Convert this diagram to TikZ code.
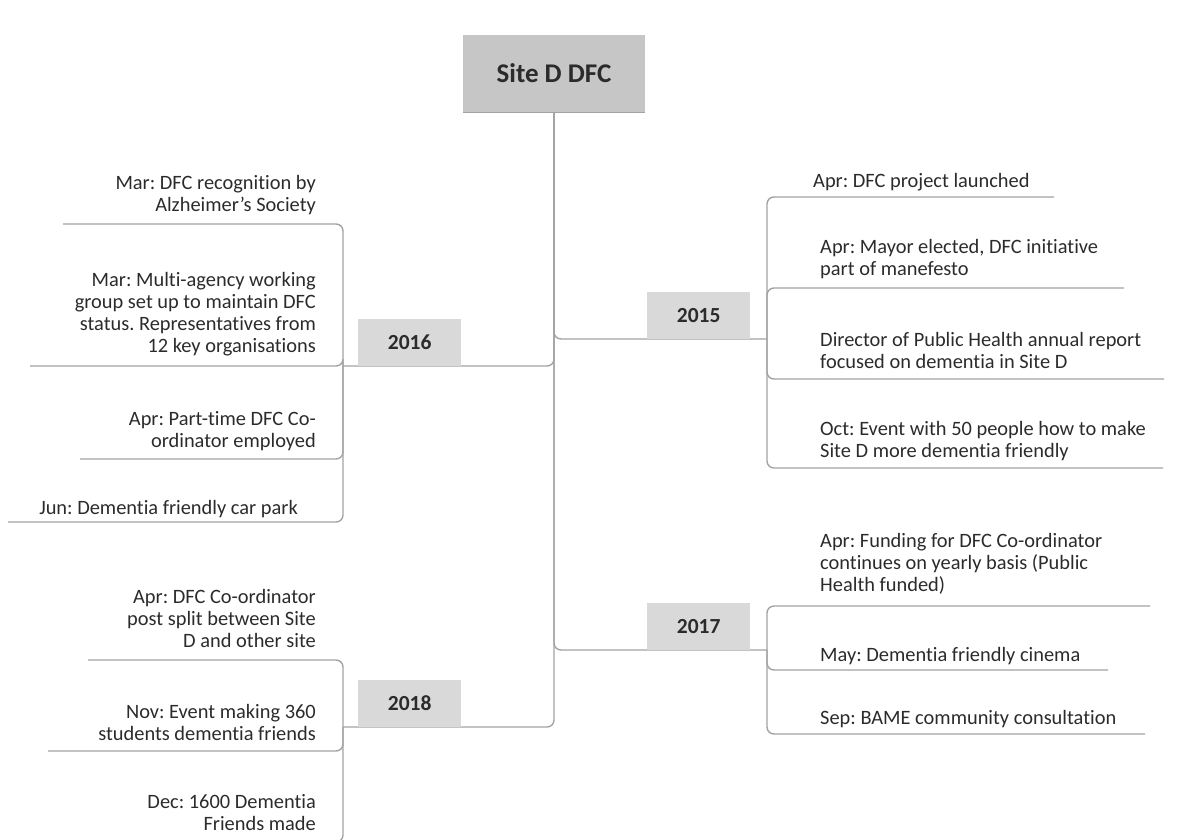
\documentclass[tikz,border=0pt]{standalone}
\usepackage{fontspec}
\setmainfont{Carlito}[Ligatures=NoCommon]
\frenchspacing
\definecolor{linegray}{HTML}{A3A3A3}
\definecolor{rootgray}{HTML}{C6C6C6}
\definecolor{yeargray}{HTML}{D9D9D9}
\definecolor{inkgray}{HTML}{2B2B2B}
\begin{document}
\begin{tikzpicture}[x=1pt,y=-1pt,
  branch/.style={draw=linegray, line width=1.4pt, rounded corners=7pt},
  rootbox/.style={fill=rootgray, minimum width=182pt, minimum height=77pt, inner sep=0pt,
    font=\fontsize{27}{32}\selectfont\bfseries, text=inkgray},
  yearbox/.style={fill=yeargray, minimum width=103pt, minimum height=47pt, inner sep=0pt,
    font=\fontsize{21.5}{26}\selectfont\bfseries, text=inkgray},
  lefttext/.style={anchor=east, align=right, inner sep=0pt,
    font=\fontsize{20.4}{22}\selectfont, text=inkgray},
  righttext/.style={anchor=west, align=left, inner sep=0pt,
    font=\fontsize{20.4}{22}\selectfont, text=inkgray}]
\useasboundingbox (0,0) rectangle (1194,839);
\clip (0,0) rectangle (1194,839);

% central topic
\node[rootbox] (root) at (554,73.5) {Site D DFC};

% branch points of the four years
\coordinate (b15) at (767,339);
\coordinate (b16) at (343,366);
\coordinate (b17) at (767,650);
\coordinate (b18) at (343,727);

% trunk and year branches
\draw[branch] (root.south) |- (b15);
\draw[branch] (root.south) |- (b16);
\draw[branch] (root.south) |- (b17);
\draw[branch] (root.south) |- (b18);
\draw[linegray, line width=1.4pt] (root.south west) -- (root.south east);

% year labels sitting on their branch lines
\node[yearbox, anchor=south west] (y15) at (647,339) {2015};
\node[yearbox, anchor=south west] (y16) at (358,366) {2016};
\node[yearbox, anchor=south west] (y17) at (647,650) {2017};
\node[yearbox, anchor=south west] (y18) at (358,727) {2018};

% 2015 events
\coordinate (e15a) at (1054,197);
\coordinate (e15b) at (1124,288);
\coordinate (e15c) at (1164,379);
\coordinate (e15d) at (1163,468);
\foreach \e in {e15a,e15b,e15c,e15d} \draw[branch] (b15) |- (\e);
\node[righttext] (t15a) at (813,182) {Apr: DFC project launched};
\node[righttext] (t15b) at (820,259) {Apr: Mayor elected, DFC initiative\\part of manefesto};
\node[righttext] (t15c) at (820,350) {Director of Public Health annual report\\focused on dementia in Site D};
\node[righttext] (t15d) at (820,441) {Oct: Event with 50 people how to make\\Site D more dementia friendly};

% 2016 events
\coordinate (e16a) at (63,224);
\coordinate (e16b) at (30,366);
\coordinate (e16c) at (80,459);
\coordinate (e16d) at (8,522);
\foreach \e in {e16a,e16b,e16c,e16d} \draw[branch] (b16) |- (\e);
\node[lefttext] (t16a) at (316,195) {Mar: DFC recognition by\\Alzheimer's Society};
\node[lefttext] (t16b) at (316,314) {Mar: Multi-agency working\\group set up to maintain DFC\\status. Representatives from\\12 key organisations};
\node[lefttext] (t16c) at (316,431) {Apr: Part-time DFC Co-\\ordinator employed};
\node[lefttext] (t16d) at (298,509) {Jun: Dementia friendly car park};

% 2017 events
\coordinate (e17a) at (1150,606);
\coordinate (e17b) at (1108,670);
\coordinate (e17c) at (1145,734);
\foreach \e in {e17a,e17b,e17c} \draw[branch] (b17) |- (\e);
\node[righttext] (t17a) at (820,564) {Apr: Funding for DFC Co-ordinator\\continues on yearly basis (Public\\Health funded)};
\node[righttext] (t17b) at (820,656) {May: Dementia friendly cinema};
\node[righttext] (t17c) at (820,719) {Sep: BAME community consultation};

% 2018 events
\coordinate (e18a) at (88,660);
\coordinate (e18b) at (48,751);
\coordinate (e18c) at (60,842);
\foreach \e in {e18a,e18b,e18c} \draw[branch] (b18) |- (\e);
\node[lefttext] (t18a) at (316,618) {Apr: DFC Co-ordinator\\post split between Site\\D and other site};
\node[lefttext] (t18b) at (316,722) {Nov: Event making 360\\students dementia friends};
\node[lefttext] (t18c) at (316,813) {Dec: 1600 Dementia\\Friends made};
\end{tikzpicture}
\end{document}
